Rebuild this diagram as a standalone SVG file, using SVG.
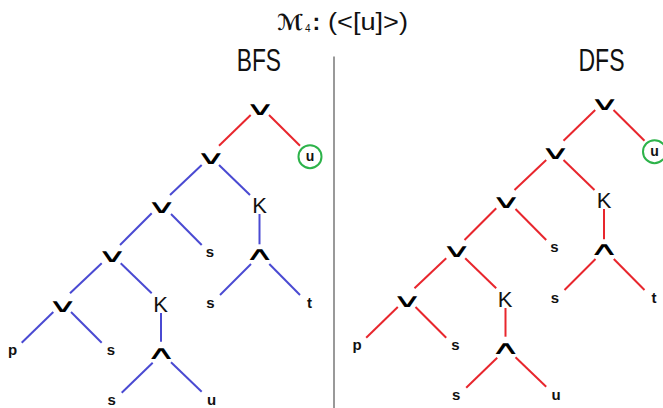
<svg xmlns="http://www.w3.org/2000/svg" width="663" height="408" viewBox="0 0 663 408">
<style>
.t{font-family:"Liberation Sans",Arial,sans-serif;fill:#111;text-anchor:middle}
.lf{font-size:15px;font-weight:bold}
.k{font-size:22px}
.cu{font-size:14px;font-weight:bold}
.op{font-family:"DejaVu Sans",sans-serif;font-size:20px;fill:#000;text-anchor:middle}
.hd{font-family:"Liberation Sans",Arial,sans-serif;font-size:32px;fill:#111}
.ti{font-family:"Liberation Sans",Arial,sans-serif;font-size:23px;fill:#111}
.e line{stroke-width:2}
.r{stroke:#e8262d}
.b{stroke:#4a4ad2}
.circ{fill:none;stroke:#2db34a;stroke-width:2}
</style>
<rect width="663" height="408" fill="#fff"/>
<g id="title">
<text x="277.5" y="29.5" style="font-family:'DejaVu Sans',sans-serif;font-size:22px;font-weight:bold;fill:#111">ℳ</text>
<text x="305" y="31.5" style="font-family:'Liberation Sans',sans-serif;font-size:10px;fill:#111">4</text>
<text class="ti" x="312.5" y="29.5" style="font-weight:bold">:</text>
<text class="ti" x="328" y="29.5" textLength="80" lengthAdjust="spacingAndGlyphs">(&lt;[u]&gt;)</text>
</g>
<line id="divider" x1="334" y1="56.5" x2="334" y2="408" stroke="#777" stroke-width="1.5"/>
<text id="bfs-label" class="hd" x="236.7" y="70.7" textLength="44.3" lengthAdjust="spacingAndGlyphs">BFS</text>
<text id="dfs-label" class="hd" x="578.5" y="70.7" textLength="46" lengthAdjust="spacingAndGlyphs">DFS</text>

<g id="bfs">
<g id="bfs-connectors" class="e">
<line class="r" x1="250.7" y1="115" x2="219" y2="145.7"/>
<line class="r" x1="269" y1="115" x2="300" y2="145.7"/>
<line class="b" x1="201.7" y1="165" x2="170" y2="195"/>
<line class="b" x1="219" y1="165" x2="250" y2="195"/>
<line class="b" x1="259.5" y1="214" x2="259.5" y2="244.3"/>
<line class="b" x1="151.7" y1="213.3" x2="120" y2="245"/>
<line class="b" x1="171" y1="214" x2="201.7" y2="245"/>
<line class="b" x1="251" y1="264" x2="220" y2="295"/>
<line class="b" x1="269.3" y1="264" x2="300" y2="295"/>
<line class="b" x1="101.7" y1="263.3" x2="70" y2="293.3"/>
<line class="b" x1="120.7" y1="263.3" x2="151.7" y2="293.3"/>
<line class="b" x1="53.3" y1="312" x2="21.7" y2="342.7"/>
<line class="b" x1="71" y1="312" x2="101.7" y2="342.7"/>
<line class="b" x1="161" y1="313" x2="161" y2="341.7"/>
<line class="b" x1="152.7" y1="362.7" x2="121.7" y2="392.7"/>
<line class="b" x1="171" y1="362.3" x2="201.7" y2="391.7"/>
</g>
<g id="bfs-or1"><text class="op" transform="translate(260,114.8) scale(2.1,0.92)">∨</text></g>
<g id="bfs-u1"><circle class="circ" cx="310" cy="156.7" r="11.5"/><text class="t cu" x="310" y="160.5">u</text></g>
<g id="bfs-or2"><text class="op" transform="translate(210.8,163.5) scale(2.1,0.92)">∨</text></g>
<g id="bfs-or3"><text class="op" transform="translate(161.5,212.5) scale(2.1,0.92)">∨</text></g>
<g id="bfs-k1"><text class="t k" x="259.5" y="212.5">K</text></g>
<g id="bfs-or4"><text class="op" transform="translate(112,261.5) scale(2.1,0.92)">∨</text></g>
<g id="bfs-s1"><text class="t lf" x="210" y="257">s</text></g>
<g id="bfs-and1"><text class="op" transform="translate(259.5,259.8) scale(2.1,0.92)">∧</text></g>
<g id="bfs-or5"><text class="op" transform="translate(62.5,311.8) scale(2.1,0.92)">∨</text></g>
<g id="bfs-k2"><text class="t k" x="160.7" y="311.5">K</text></g>
<g id="bfs-s2"><text class="t lf" x="210.5" y="307.5">s</text></g>
<g id="bfs-t"><text class="t lf" x="309.5" y="307.5">t</text></g>
<g id="bfs-p"><text class="t lf" x="12.7" y="355">p</text></g>
<g id="bfs-s3"><text class="t lf" x="111" y="355">s</text></g>
<g id="bfs-and2"><text class="op" transform="translate(161,358.5) scale(2.1,0.92)">∧</text></g>
<g id="bfs-s4"><text class="t lf" x="111.7" y="405">s</text></g>
<g id="bfs-u2"><text class="t lf" x="211.5" y="405">u</text></g>
</g>

<g id="dfs" transform="translate(344.5,-5)">
<g id="dfs-connectors" class="e">
<line class="r" x1="250.7" y1="115" x2="219" y2="145.7"/>
<line class="r" x1="269" y1="115" x2="300" y2="145.7"/>
<line class="r" x1="201.7" y1="165" x2="170" y2="195"/>
<line class="r" x1="219" y1="165" x2="250" y2="195"/>
<line class="r" x1="259.5" y1="214" x2="259.5" y2="244.3"/>
<line class="r" x1="151.7" y1="213.3" x2="120" y2="245"/>
<line class="r" x1="171" y1="214" x2="201.7" y2="245"/>
<line class="r" x1="251" y1="264" x2="220" y2="295"/>
<line class="r" x1="269.3" y1="264" x2="300" y2="295"/>
<line class="r" x1="101.7" y1="263.3" x2="70" y2="293.3"/>
<line class="r" x1="120.7" y1="263.3" x2="151.7" y2="293.3"/>
<line class="r" x1="53.3" y1="312" x2="21.7" y2="342.7"/>
<line class="r" x1="71" y1="312" x2="101.7" y2="342.7"/>
<line class="r" x1="161" y1="313" x2="161" y2="341.7"/>
<line class="r" x1="152.7" y1="362.7" x2="121.7" y2="392.7"/>
<line class="r" x1="171" y1="362.3" x2="201.7" y2="391.7"/>
</g>
<g id="dfs-or1"><text class="op" transform="translate(260,114.8) scale(2.1,0.92)">∨</text></g>
<g id="dfs-u1"><circle class="circ" cx="310" cy="156.7" r="11.5"/><text class="t cu" x="310" y="160.5">u</text></g>
<g id="dfs-or2"><text class="op" transform="translate(210.8,163.5) scale(2.1,0.92)">∨</text></g>
<g id="dfs-or3"><text class="op" transform="translate(161.5,212.5) scale(2.1,0.92)">∨</text></g>
<g id="dfs-k1"><text class="t k" x="259.5" y="212.5">K</text></g>
<g id="dfs-or4"><text class="op" transform="translate(112,261.5) scale(2.1,0.92)">∨</text></g>
<g id="dfs-s1"><text class="t lf" x="210" y="257">s</text></g>
<g id="dfs-and1"><text class="op" transform="translate(259.5,259.8) scale(2.1,0.92)">∧</text></g>
<g id="dfs-or5"><text class="op" transform="translate(62.5,311.8) scale(2.1,0.92)">∨</text></g>
<g id="dfs-k2"><text class="t k" x="160.7" y="311.5">K</text></g>
<g id="dfs-s2"><text class="t lf" x="210.5" y="307.5">s</text></g>
<g id="dfs-t"><text class="t lf" x="309.5" y="307.5">t</text></g>
<g id="dfs-p"><text class="t lf" x="12.7" y="355">p</text></g>
<g id="dfs-s3"><text class="t lf" x="111" y="355">s</text></g>
<g id="dfs-and2"><text class="op" transform="translate(161,358.5) scale(2.1,0.92)">∧</text></g>
<g id="dfs-s4"><text class="t lf" x="111.7" y="405">s</text></g>
<g id="dfs-u2"><text class="t lf" x="211.5" y="405">u</text></g>
</g>
</svg>
